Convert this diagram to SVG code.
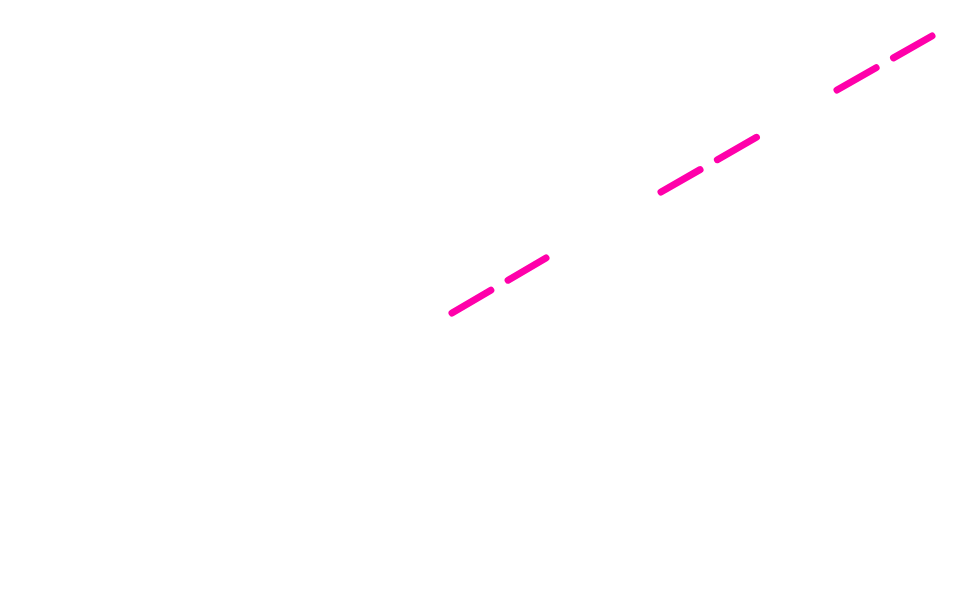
<svg xmlns="http://www.w3.org/2000/svg" width="960" height="605" viewBox="0 0 960 605">
<style>
.seg{stroke:#ff00aa;stroke-width:7;stroke-linecap:round;fill:none;stroke-dasharray:45 20}
</style>
<rect width="960" height="605" fill="#ffffff"/>
<g id="connectors">
<line class="seg" x1="452" y1="313" x2="546" y2="258"/>
<line class="seg" x1="661" y1="192" x2="757" y2="137"/>
<line class="seg" x1="837" y1="90" x2="932" y2="36"/>
</g>
</svg>
